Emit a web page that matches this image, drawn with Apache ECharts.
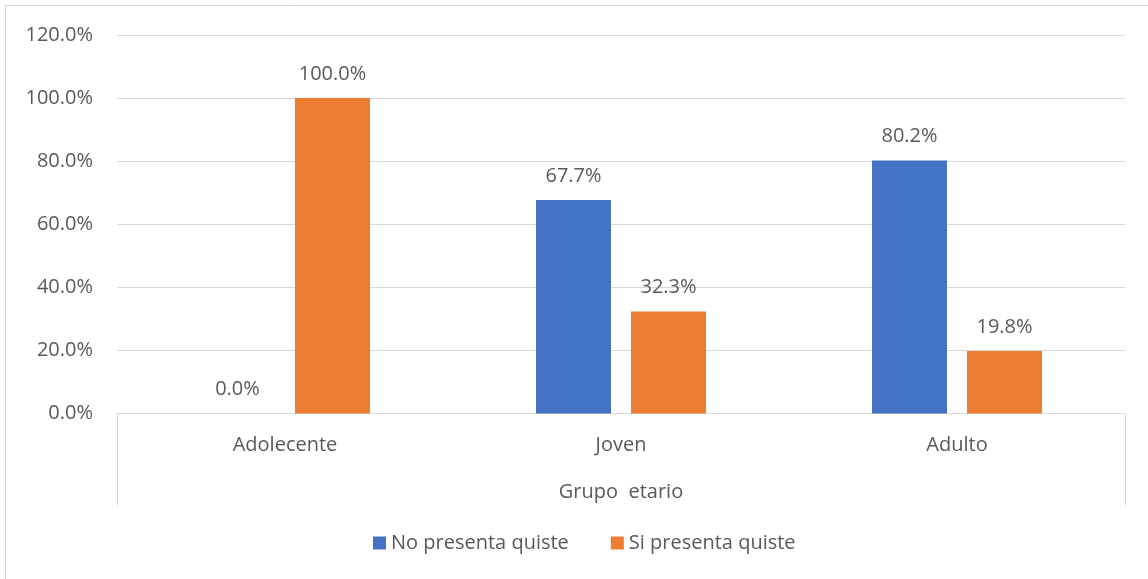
<!DOCTYPE html>
<html><head><meta charset="utf-8">
<script src="https://cdn.jsdelivr.net/npm/echarts@6/dist/echarts.min.js"></script>
<style>html,body{margin:0;padding:0;background:#fff}#c{width:1148px;height:579px}</style>
</head><body><div id="c"></div>
<script>
const categories = ['Adolecente', 'Joven', 'Adulto'];
const noPresenta = [0.0, 67.7, 80.2];
const siPresenta = [100.0, 32.3, 19.8];
const seriesNames = ['No presenta quiste', 'Si presenta quiste'];
const groupTitle = 'Grupo  etario';

const FONT = 'Open Sans';
const FS = 20;
const TXT = '#595959';
const chart = echarts.init(document.getElementById('c'));
const pct = v => Number(v).toFixed(1) + '%';
const lbl = {show: true, position: 'top', distance: 14, formatter: p => pct(p.value), color: TXT, fontSize: FS, fontFamily: FONT};
chart.setOption({
  animation: false,
  textStyle: {fontFamily: FONT},
  graphic: [{type: 'rect', shape: {x: 5.5, y: 5.5, width: 1300, height: 700}, style: {fill: 'none', stroke: '#d9d9d9', lineWidth: 1}, silent: true}],
  grid: {left: 117, right: 23, top: 35, bottom: 165.5},
  legend: {bottom: 21, left: 368, itemWidth: 13, itemHeight: 13, itemGap: 42, icon: 'rect',
    textStyle: {color: TXT, fontSize: FS, fontFamily: FONT}},
  xAxis: [{
    type: 'category', data: categories,
    axisLine: {lineStyle: {color: '#d9d9d9', width: 1}},
    axisTick: {show: false},
    axisLabel: {color: TXT, fontSize: FS, fontFamily: FONT, margin: 22}
  }, {
    type: 'value', position: 'bottom', min: 0, max: 1, interval: 1,
    axisLine: {show: false},
    axisTick: {show: true, length: 92, lineStyle: {color: '#d9d9d9', width: 1}},
    axisLabel: {show: false}, splitLine: {show: false},
    name: groupTitle, nameLocation: 'middle', nameGap: 69,
    nameTextStyle: {color: TXT, fontSize: FS, fontFamily: FONT}
  }],
  yAxis: {
    type: 'value', min: 0, max: 120, interval: 20,
    axisLine: {show: false}, axisTick: {show: false},
    axisLabel: {formatter: v => pct(v), color: TXT, fontSize: FS, fontFamily: FONT, margin: 24},
    splitLine: {lineStyle: {color: '#d9d9d9', width: 1}}
  },
  series: [
    {name: seriesNames[0], type: 'bar', data: noPresenta, barWidth: 75, barGap: '26.7%', itemStyle: {color: '#4472c4'}, label: lbl},
    {name: seriesNames[1], type: 'bar', data: siPresenta, barWidth: 75, barGap: '26.7%', itemStyle: {color: '#ed7d31'}, label: lbl}
  ]
});
</script></body></html>
